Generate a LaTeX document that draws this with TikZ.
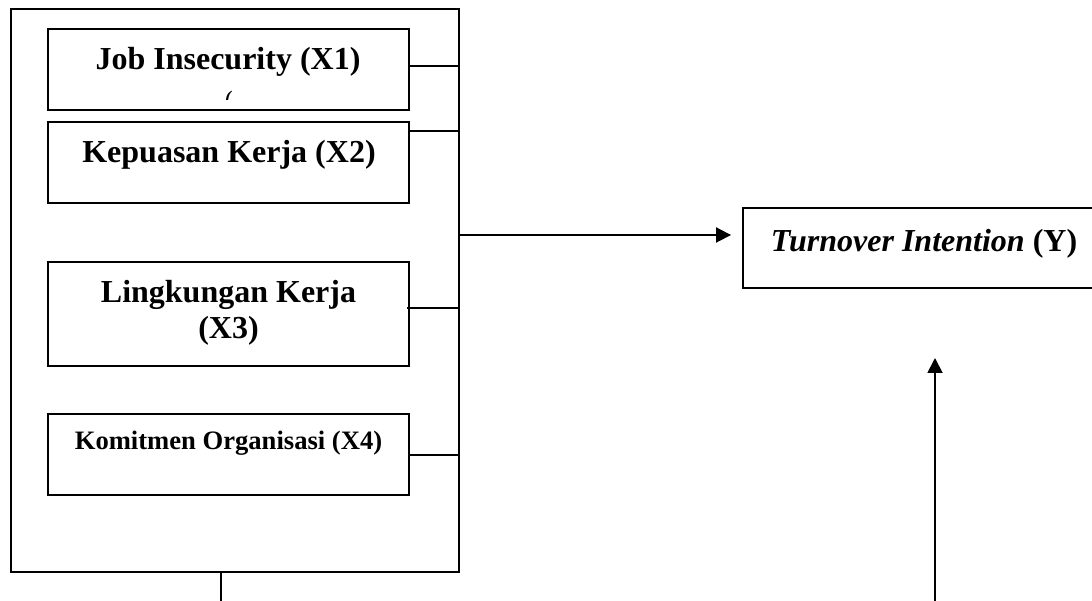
\documentclass[tikz,border=0pt]{standalone}
\usepackage{fontspec}
\setmainfont{Liberation Serif}
\usetikzlibrary{arrows.meta}
\begin{document}
\begin{tikzpicture}[x=1pt,y=-1pt,
  varbox/.style={draw,line width=1.9pt,rectangle,inner sep=0pt,minimum width=361pt},
  outerbox/.style={draw,line width=2.8pt,rectangle,inner sep=0pt,minimum width=448pt,minimum height=563pt},
  lbl/.style={anchor=base,inner sep=0pt,font=\fontsize{32}{36}\selectfont\bfseries},
  conn/.style={line width=1.9pt},
  arr/.style={line width=1.9pt,-{Triangle[length=15pt,width=15pt]}}]
\useasboundingbox (0,0) rectangle (1092,601);
% outer frame
\node[outerbox] (outer) at (235,290.5) {};
% inner boxes
\node[varbox,minimum height=81pt] (x1) at (228.5,69.5) {};
\node[varbox,minimum height=81pt] (x2) at (228.5,162.5) {};
\node[varbox,minimum height=104pt] (x3) at (228.5,314) {};
\node[varbox,minimum height=81pt] (x4) at (228.5,454.5) {};
% texts
\node[lbl] (t1) at (228,70) {Job Insecurity (X1)};
\begin{scope}
\clip (210,90) rectangle (245,99.5);
\node[inner sep=0pt,font=\fontsize{18}{18}\selectfont\bfseries\itshape,anchor=north] (t1b) at (228,91) {(};
\end{scope}
\node[lbl] (t2) at (229,163) {Kepuasan Kerja (X2)};
\node[lbl] (t3a) at (228.5,302.5) {Lingkungan Kerja};
\node[lbl] (t3b) at (228.5,339) {(X3)};
\node[lbl,font=\fontsize{26.6}{30}\selectfont\bfseries] (t4) at (228.5,449) {Komitmen Organisasi (X4)};
% dependent variable box (extends past right edge)
\node[draw,line width=1.9pt,rectangle,inner sep=0pt,minimum width=370pt,minimum height=80pt] (y) at (928,248) {};
\node[lbl] (ty) at (924,252) {\textit{Turnover Intention} (Y)};
% connectors from inner boxes to the frame
\draw[conn] (x1.east |- 0,66) -- (outer.east |- 0,66);
\draw[conn] (x2.east |- 0,131) -- (outer.east |- 0,131);
\draw[conn] ([xshift=-3pt]x3.east |- 0,308) -- (outer.east |- 0,308);
\draw[conn] (x4.east |- 0,455) -- (outer.east |- 0,455);
% arrows
\coordinate (bl) at (221,601);
\coordinate (br) at (935,601);
\coordinate (tipv) at (935,358);
\draw[arr,shorten >=11pt] (outer.east |- 0,235) -- (y.west |- 0,235);
\draw[conn,line width=2.4pt] (outer.south -| bl) -- (bl);
\draw[arr] (br) -- (tipv);
\end{tikzpicture}
\end{document}
